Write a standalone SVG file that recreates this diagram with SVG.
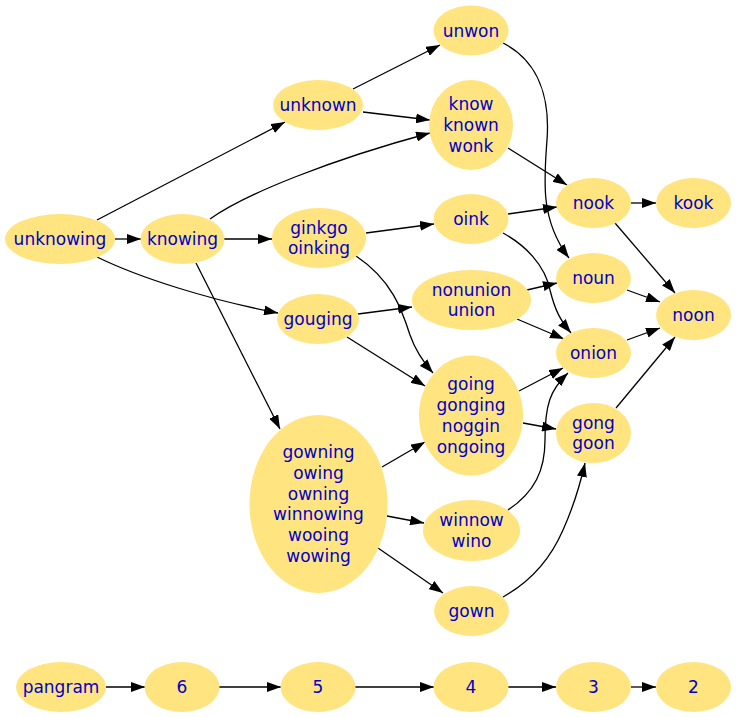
<svg xmlns="http://www.w3.org/2000/svg" width="737" height="717" viewBox="0 0 737 717">
<defs>
<style>
.n ellipse{fill:#ffe47f;stroke:none}
.n text{font-family:"DejaVu Sans","Liberation Sans",sans-serif;font-size:17px;fill:#0000cc;text-anchor:middle}
.e path{fill:none;stroke:#000;stroke-width:1.3;marker-end:url(#a)}
</style>
<marker id="a" markerUnits="userSpaceOnUse" markerWidth="14" markerHeight="10" refX="14" refY="5" orient="auto"><path d="M0,0 L14,5 L0,10 z" fill="#000"/></marker>
</defs>
<rect width="737" height="717" fill="#fff"/>
<g id="edges" class="e">
<path d="M97,220 L285,122"/>
<path d="M115,239 L141,239"/>
<path d="M97,257 C140,278 210,300 278,313"/>
<path d="M210,219 C245,194 330,160 430,133"/>
<path d="M224,239 L272,239"/>
<path d="M196,263 L280,429"/>
<path d="M353,89 L440,45"/>
<path d="M363,112 L430,120"/>
<path d="M366,233 L434,224"/>
<path d="M356,256 C392,280 402,310 410,335 C416,352 424,363 433,373"/>
<path d="M358,314 L412,307"/>
<path d="M347,337 L425,386"/>
<path d="M508,148 L567,185"/>
<path d="M503,43 C540,62 550,100 547,140 C544,180 540,220 569,258"/>
<path d="M508,214 L557,207"/>
<path d="M503,233 C525,245 545,265 550,290 C555,310 560,320 571,333"/>
<path d="M527,290 L557,283"/>
<path d="M517,319 L564,339"/>
<path d="M631,203 L656,203"/>
<path d="M615,223 L675,293"/>
<path d="M627,290 L660,302"/>
<path d="M627,340 L660,328"/>
<path d="M616,408 L675,337"/>
<path d="M519,391 L563,368"/>
<path d="M523,423 L556,429"/>
<path d="M382,467 L425,442"/>
<path d="M387,516 L424,523"/>
<path d="M378,548 L443,593"/>
<path d="M508,510 C535,492 545,470 545,440 C545,405 550,390 568,373"/>
<path d="M503,597 C530,582 550,560 563,530 C572,510 580,485 585,463"/>
<path d="M106,687 L145,687"/>
<path d="M219,687 L281,687"/>
<path d="M355,687 L434,687"/>
<path d="M508,687 L556,687"/>
<path d="M631,687 L656,687"/>
</g>
<g id="unknowing" class="n"><ellipse cx="60" cy="239" rx="55" ry="25"/><text x="60" y="245">unknowing</text></g>
<g id="knowing" class="n"><ellipse cx="182.5" cy="239" rx="42" ry="25"/><text x="182.5" y="245">knowing</text></g>
<g id="unknown" class="n"><ellipse cx="318" cy="105" rx="45" ry="25"/><text x="318" y="111">unknown</text></g>
<g id="ginkgo" class="n"><ellipse cx="319" cy="238" rx="47" ry="30"/><text x="319" y="233.6">ginkgo</text><text x="319" y="254.4">oinking</text></g>
<g id="gouging" class="n"><ellipse cx="318" cy="319" rx="41" ry="25"/><text x="318" y="325">gouging</text></g>
<g id="gowning" class="n"><ellipse cx="318.5" cy="504" rx="69" ry="89"/><text x="318.5" y="458">gowning</text><text x="318.5" y="478.8">owing</text><text x="318.5" y="499.6">owning</text><text x="318.5" y="520.4">winnowing</text><text x="318.5" y="541.2">wooing</text><text x="318.5" y="562">wowing</text></g>
<g id="unwon" class="n"><ellipse cx="471" cy="30.5" rx="37.5" ry="25"/><text x="471" y="36.5">unwon</text></g>
<g id="know" class="n"><ellipse cx="471" cy="125" rx="42" ry="45"/><text x="471" y="110.2">know</text><text x="471" y="131">known</text><text x="471" y="151.8">wonk</text></g>
<g id="oink" class="n"><ellipse cx="471" cy="219" rx="37.5" ry="25"/><text x="471" y="225">oink</text></g>
<g id="nonunion" class="n"><ellipse cx="471.5" cy="300" rx="59.5" ry="30"/><text x="471.5" y="295.6">nonunion</text><text x="471.5" y="316.4">union</text></g>
<g id="going" class="n"><ellipse cx="471" cy="415.5" rx="52" ry="60"/><text x="471" y="390.3">going</text><text x="471" y="411.1">gonging</text><text x="471" y="431.9">noggin</text><text x="471" y="452.7">ongoing</text></g>
<g id="winnow" class="n"><ellipse cx="471.5" cy="530.5" rx="48.5" ry="30.5"/><text x="471.5" y="526.1">winnow</text><text x="471.5" y="546.9">wino</text></g>
<g id="gown" class="n"><ellipse cx="471.5" cy="611" rx="37.5" ry="25"/><text x="471.5" y="617">gown</text></g>
<g id="nook" class="n"><ellipse cx="593.5" cy="203" rx="37.5" ry="25"/><text x="593.5" y="209">nook</text></g>
<g id="noun" class="n"><ellipse cx="593.5" cy="278" rx="37.5" ry="25"/><text x="593.5" y="284">noun</text></g>
<g id="onion" class="n"><ellipse cx="593.5" cy="353" rx="37.5" ry="25"/><text x="593.5" y="359">onion</text></g>
<g id="gonggoon" class="n"><ellipse cx="593.5" cy="433" rx="37.5" ry="30"/><text x="593.5" y="428.6">gong</text><text x="593.5" y="449.4">goon</text></g>
<g id="kook" class="n"><ellipse cx="693.5" cy="203" rx="37.5" ry="25"/><text x="693.5" y="209">kook</text></g>
<g id="noon" class="n"><ellipse cx="693.5" cy="315" rx="37.5" ry="25"/><text x="693.5" y="321">noon</text></g>
<g id="pangram" class="n"><ellipse cx="61" cy="687" rx="45" ry="25"/><text x="61" y="693">pangram</text></g>
<g id="n6" class="n"><ellipse cx="182" cy="687" rx="37.5" ry="25"/><text x="182" y="693">6</text></g>
<g id="n5" class="n"><ellipse cx="318" cy="687" rx="37.5" ry="25"/><text x="318" y="693">5</text></g>
<g id="n4" class="n"><ellipse cx="471" cy="687" rx="37.5" ry="25"/><text x="471" y="693">4</text></g>
<g id="n3" class="n"><ellipse cx="593.5" cy="687" rx="37.5" ry="25"/><text x="593.5" y="693">3</text></g>
<g id="n2" class="n"><ellipse cx="693.5" cy="687" rx="37.5" ry="25"/><text x="693.5" y="693">2</text></g>
</svg>
